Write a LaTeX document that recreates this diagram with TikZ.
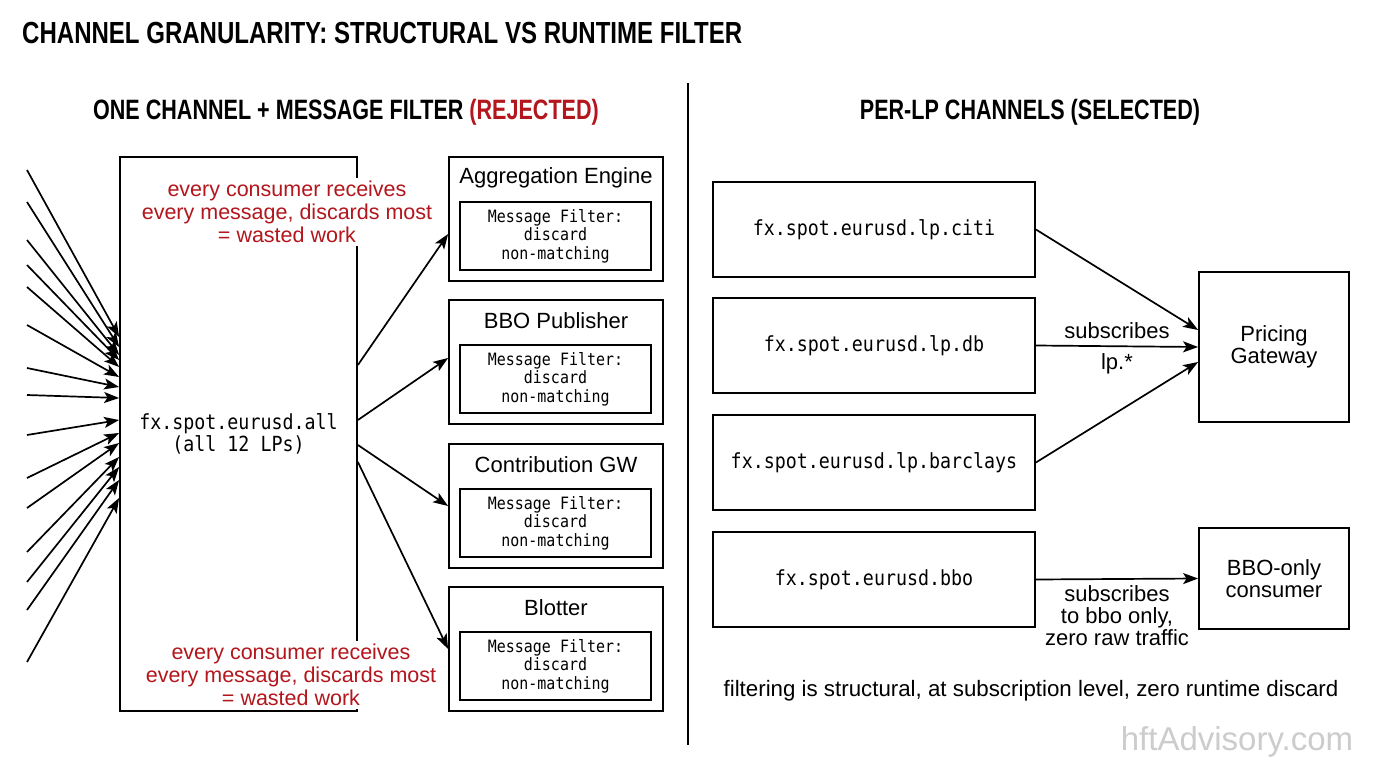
\documentclass[tikz,border=0pt]{standalone}
\usepackage{fontspec}
\setmainfont{Liberation Sans}
\setmonofont{DejaVu Sans Mono}[FakeStretch=0.88]
\newfontfamily\condfont{Liberation Sans}[FakeStretch=0.77]
\newfontfamily\titlefont{Liberation Sans}[FakeStretch=0.788]
\usetikzlibrary{arrows.meta}
\definecolor{redtxt}{HTML}{B3161C}
\begin{document}
\begin{tikzpicture}[x=1pt,y=-1pt,
  box/.style={draw=black,line width=1.8pt,rectangle,inner sep=0pt},
  arr/.style={line width=1.7pt,-{Stealth[length=15pt,width=11pt,inset=3.5pt]}},
  heading/.style={font=\condfont\bfseries\fontsize{28}{32}\selectfont,inner sep=0pt},
  redlbl/.style={text=redtxt,fill=white,align=center,inner sep=3pt,font=\fontsize{21.5}{23}\selectfont},
  body/.style={align=center,inner sep=0pt,font=\fontsize{22}{22}\selectfont},
  monobig/.style={font=\ttfamily\fontsize{20.8}{22}\selectfont,align=center},
  monosmall/.style={font=\ttfamily\fontsize{17}{18.5}\selectfont,align=center}
]
\useasboundingbox (0,0) rectangle (1376,768);
\fill[white] (0,0) rectangle (1376,768);

% title
\node[anchor=west,inner sep=0pt,font=\titlefont\bfseries\fontsize{30.5}{34}\selectfont] (title) at (22,33) {CHANNEL GRANULARITY: STRUCTURAL VS RUNTIME FILTER};

% divider
\coordinate (dtop) at (688,83);
\coordinate (dbot) at (688,745);
\draw[line width=1.5pt] (dtop) -- (dbot);

% headings
\node[heading] (hleft) at (346,112) {ONE CHANNEL + MESSAGE FILTER \textcolor{redtxt}{(REJECTED)}};
\node[heading] (hright) at (1030,112) {PER-LP CHANNELS (SELECTED)};

% left: single channel
\node[box,minimum width=237pt,minimum height=554pt,monobig] (all) at (238.5,434) {fx.spot.eurusd.all\\(all 12 LPs)};

% incoming LP arrows
\foreach \i/\sy/\ey in {1/170/97,2/202/87,3/240/79,4/265/74,5/287/67,6/325/57,7/368/47,8/395/36,9/435/14,10/478/1,11/508/-9,12/552/-23,13/582/-33,14/610/-46,15/662/-64}{
  \coordinate (src\i) at (27,\sy);
  \draw[arr] (src\i) -- ([yshift=\ey pt]all.west);
}

% red notes
\node[redlbl] (note1) at (287,212) {every consumer receives\\every message, discards most\\= wasted work};
\node[redlbl] (note2) at (291,675) {every consumer receives\\every message, discards most\\= wasted work};

% consumers
\foreach \t/\n/\lab in {157/agg/Aggregation Engine,300/bbop/BBO Publisher,444/contr/Contribution GW,587/blot/Blotter}{
  \node[box,minimum width=214pt,minimum height=124pt] (\n) at (556,\t+62) {};
  \node[body] (\n t) at (556,\t+21) {\lab};
  \node[box,line width=1.6pt,minimum width=191pt,minimum height=68pt,monosmall] (\n f) at (555.5,\t+79) {Message Filter:\\discard\\non-matching};
}

\draw[arr] ([yshift=69pt]all.east) -- ([yshift=-15pt]agg.west);
\draw[arr] ([yshift=14pt]all.east) -- ([yshift=4pt]bbop.west);
\draw[arr] ([yshift=-11pt]all.east) -- (contr.west);
\draw[arr] ([yshift=-28pt]all.east) -- (blot.west);

% right: per-LP channels
\node[box,minimum width=322pt,minimum height=95pt,monobig] (citi) at (874,229.5) {fx.spot.eurusd.lp.citi};
\node[box,minimum width=322pt,minimum height=95pt,monobig] (db) at (874,345.5) {fx.spot.eurusd.lp.db};
\node[box,minimum width=322pt,minimum height=95pt,monobig] (barc) at (874,462.5) {fx.spot.eurusd.lp.barclays};
\node[box,minimum width=322pt,minimum height=95pt,monobig] (bbo) at (874,579.5) {fx.spot.eurusd.bbo};

\node[box,minimum width=150pt,minimum height=150pt,body] (pg) at (1274,347) {Pricing\\Gateway};
\node[box,minimum width=150pt,minimum height=101pt,body] (bboc) at (1274,578.5) {BBO-only\\consumer};

\draw[arr] (citi.east) -- ([yshift=17pt]pg.west);
\draw[arr] (db.east) -- node[body,above=7pt] (sub1) {subscribes} node[body,below=6pt] (lpstar) {lp.*} (pg.west);
\draw[arr] (barc.east) -- ([yshift=-15pt]pg.west);
\draw[arr] (bbo.east) -- node[body,below=6pt,font=\fontsize{22}{22}\selectfont] (sub2) {subscribes\\to bbo only,\\zero raw traffic} (bboc.west);

\node[body,font=\fontsize{22.3}{24}\selectfont] (summary) at (1031,691) {filtering is structural, at subscription level, zero runtime discard};

% watermark
\node[inner sep=0pt,text=black!20,font=\fontsize{33}{33}\selectfont] (wm) at (1237,742) {hftAdvisory.com};
\end{tikzpicture}
\end{document}
